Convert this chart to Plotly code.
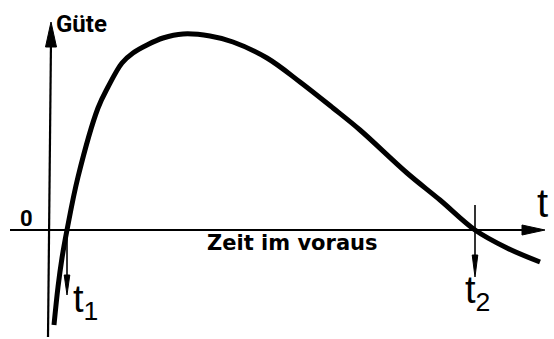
import plotly.graph_objects as go

# Quality ("Güte") of a forecast as a function of lead time ("Zeit im voraus")
lead_time = [0.5, 0.9, 1.3, 1.8, 2.9, 4.9, 5.9, 7.3, 8.4, 9.8, 11.4, 13.4,
             16.1, 18.4, 21.8, 25.1, 28.4, 31.1, 35.8, 39.1, 42.6, 45.8, 49.1]
quality = [-9.5, -5.7, -2.8, 0.0, 5.3, 12.2, 14.3, 16.7, 17.7, 18.5, 19.2, 19.6,
           19.4, 18.8, 17.2, 14.8, 12.2, 10.0, 5.7, 3.0, 0.0, -1.8, -3.2]

# the two zero crossings marked on the time axis
t1 = 1.8
t2 = 42.6

W, H = 554, 339
X_RANGE = [-4.9, 50.5]
Y_RANGE = [-10.9, 23.0]

FONT = "DejaVu Sans"
INK = "black"

fig = go.Figure()

fig.add_trace(go.Scatter(
    x=lead_time, y=quality, mode="lines",
    line=dict(color=INK, width=5, shape="spline", smoothing=1.0),
    hoverinfo="skip", showlegend=False,
))


def tri(tip_x, tip_y, dx, dy, half):
    """Filled triangular arrow head with its tip at (tip_x, tip_y),
    pointing along (dx, dy) (unit axis direction), length |dx|+|dy|."""
    bx, by = tip_x - dx, tip_y - dy
    if dx == 0:
        pts = [(tip_x, tip_y), (bx - half, by), (bx + half, by)]
    else:
        pts = [(tip_x, tip_y), (bx, by - half), (bx, by + half)]
    path = "M " + " L ".join(f"{px},{py}" for px, py in pts) + " Z"
    return dict(type="path", path=path, xref="x", yref="y",
                fillcolor=INK, line=dict(color=INK, width=1))


shapes = [
    # quality axis
    dict(type="line", xref="x", yref="y", x0=-0.1, y0=-10.7, x1=0.2, y1=19.0,
         line=dict(color=INK, width=2.2)),
    tri(0.2, 20.8, 0, 2.5, 0.55),
    # time axis
    dict(type="line", xref="x", yref="y", x0=-3.9, y0=0, x1=48.0, y1=0,
         line=dict(color=INK, width=2)),
    tri(49.6, 0, 2.3, 0, 0.5),
    # marker at t1
    dict(type="line", xref="x", yref="y", x0=t1, y0=0, x1=t1, y1=-5.0,
         line=dict(color=INK, width=1.6)),
    tri(t1, -6.5, 0, -2.0, 0.28),
    # marker at t2
    dict(type="line", xref="x", yref="y", x0=t2, y0=2.5, x1=t2, y1=-3.0,
         line=dict(color=INK, width=1.6)),
    tri(t2, -4.7, 0, -2.2, 0.28),
]


def px(x, y):
    return x / W, 1 - y / H


annotations = []


def label(text, x, y, size, xanchor="left", yanchor="middle",
          family=FONT, weight="normal"):
    ax, ay = px(x, y)
    annotations.append(dict(
        text=text, x=ax, y=ay, xref="paper", yref="paper",
        xanchor=xanchor, yanchor=yanchor, showarrow=False,
        font=dict(family=family, size=size, color=INK, weight=weight),
    ))


label("Güte", 54, 24, 24, family="Roboto", weight="bold")
label("0", 26, 218, 22, xanchor="center", family="Roboto", weight="bold")
label("Zeit im voraus", 292, 243, 21, xanchor="center", weight="bold")
label("t", 535, 203, 40, family="Liberation Sans")
label("t<sub>1</sub>", 71, 302, 38, family="Liberation Sans")
label("t<sub>2</sub>", 463, 293, 38, family="Liberation Sans")

fig.update_layout(
    width=W, height=H,
    margin=dict(l=0, r=0, t=0, b=0),
    paper_bgcolor="white", plot_bgcolor="white",
    xaxis=dict(visible=False, range=X_RANGE, fixedrange=True),
    yaxis=dict(visible=False, range=Y_RANGE, fixedrange=True),
    shapes=shapes, annotations=annotations,
)

fig.write_html("out.html")
